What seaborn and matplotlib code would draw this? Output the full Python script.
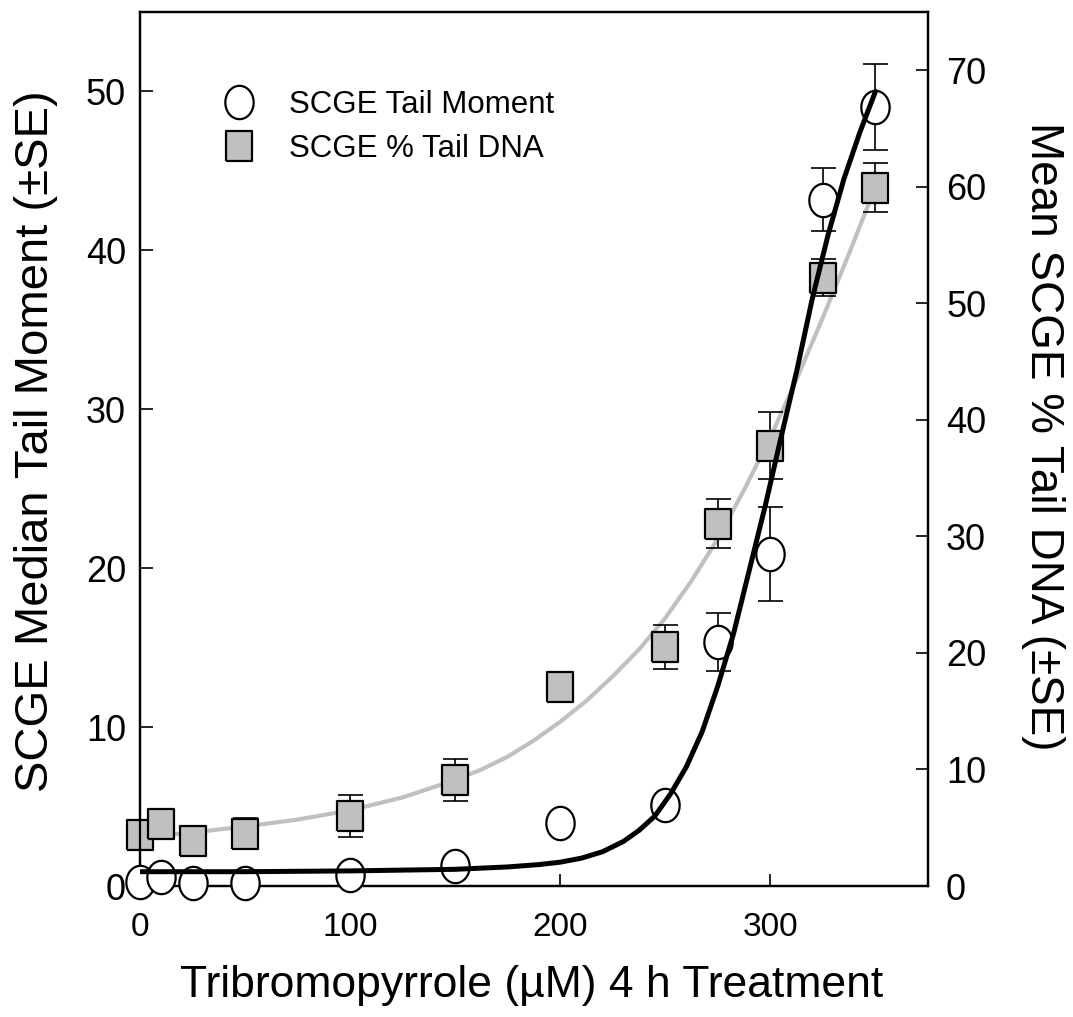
import numpy as np
import pandas as pd
import matplotlib
matplotlib.use("Agg")
import matplotlib.pyplot as plt
from matplotlib.lines import Line2D
import seaborn as sns

# ---------------- data ----------------
dose = [0, 10, 25, 50, 100, 150, 200, 250, 275, 300, 325, 350]
tail_moment = [0.25, 0.57, 0.2, 0.2, 0.7, 1.26, 3.96, 5.1, 15.35, 20.9, 43.2, 49.0]
tail_moment_se = [0.1, 0.1, 0.1, 0.1, 0.2, 0.3, 0.3, 0.4, 1.8, 2.95, 2.0, 2.7]
pct_tail_dna = [4.4, 5.3, 3.9, 4.5, 6.0, 9.1, 17.1, 20.5, 31.1, 37.8, 52.2, 59.9]
pct_tail_dna_se = [0.5, 1.0, 0.5, 1.3, 1.8, 1.8, 0.5, 1.9, 2.1, 2.9, 1.6, 2.1]

# fitted curves
fit_tm_x = [0, 50, 100, 150, 175, 190, 200, 210, 220, 230, 237.5, 245, 252.5,
            260, 267.5, 275, 282.5, 290, 297.5, 305, 312.5, 320, 327.5, 335,
            342.5, 350]
fit_tm_y = [0.9, 0.9, 0.95, 1.05, 1.2, 1.35, 1.5, 1.75, 2.15, 2.8, 3.5, 4.4, 5.8,
            7.5, 9.7, 12.6, 15.9, 19.9, 23.9, 28.2, 32.4, 37.0, 41.0, 44.5,
            47.4, 50.0]
fit_dna_x = [0, 25, 50, 75, 100, 125, 150, 162.5, 175, 187.5, 200, 212.5, 225,
             237.5, 250, 262.5, 275, 287.5, 300, 312.5, 325, 337.5, 350]
fit_dna_y = [4.2, 4.6, 5.1, 5.7, 6.5, 7.6, 9.1, 10.0, 11.1, 12.5, 14.1, 15.9,
             18.0, 20.3, 23.0, 26.2, 29.8, 34.0, 38.5, 43.5, 48.8, 54.3, 60.0]

x_ticks = [0, 100, 200, 300]
left_ticks = [0, 10, 20, 30, 40, 50]
right_ticks = [0, 10, 20, 30, 40, 50, 60, 70]

legend_labels = ["SCGE Tail Moment", "SCGE % Tail DNA"]
xlabel = "Tribromopyrrole (\u00b5M) 4 h Treatment"
left_label = "SCGE Median Tail Moment (\u00b1SE)"
right_label = "Mean SCGE % Tail DNA (\u00b1SE)"

# ---------------- style ----------------
sns.set_style("ticks")
plt.rcParams["font.family"] = ["Liberation Sans", "DejaVu Sans"]
plt.rcParams["text.color"] = "black"
plt.rcParams["axes.labelcolor"] = "black"
plt.rcParams["xtick.color"] = "black"
plt.rcParams["ytick.color"] = "black"

GRAY = "#c0c0c0"

# slightly tall marker shapes (reference is vertically stretched)
t = np.linspace(0, 2 * np.pi, 60)
ellipse = list(zip(0.85 * np.cos(t), np.sin(t)))
rect = [(-0.86, -1), (0.86, -1), (0.86, 1), (-0.86, 1), (-0.86, -1)]

fig = plt.figure(figsize=(10.73, 10.17), dpi=100)
ax = fig.add_axes([140 / 1073, 1 - 886 / 1017, 788 / 1073, 874 / 1017])
ax2 = ax.twinx()

df = pd.DataFrame({"dose": dose, "tm": tail_moment, "tm_se": tail_moment_se,
                   "dna": pct_tail_dna, "dna_se": pct_tail_dna_se})
fit_tm = pd.DataFrame({"x": fit_tm_x, "y": fit_tm_y})
fit_dna = pd.DataFrame({"x": fit_dna_x, "y": fit_dna_y})

# ---- % Tail DNA on the lower axes (right scale) ----
sns.lineplot(data=fit_dna, x="x", y="y", ax=ax, color=GRAY, linewidth=3.0,
             zorder=2)
ax.errorbar(df["dose"], df["dna"], yerr=df["dna_se"], fmt="none",
            ecolor="black", elinewidth=1.2, capsize=9, capthick=1.2,
            zorder=3, clip_on=False)
sns.scatterplot(data=df, x="dose", y="dna", ax=ax, marker=rect, s=21 ** 2,
                color=GRAY, edgecolor="black", linewidth=1.6, zorder=4,
                clip_on=False)

# ---- Tail moment on the upper axes (left scale) ----
ax2.errorbar(df["dose"], df["tm"], yerr=df["tm_se"], fmt="none",
             ecolor="black", elinewidth=1.2, capsize=9, capthick=1.2,
             zorder=3, clip_on=False)
sns.scatterplot(data=df, x="dose", y="tm", ax=ax2, marker=ellipse, s=24 ** 2,
                color="white", edgecolor="black", linewidth=1.6, zorder=4,
                clip_on=False)
sns.lineplot(data=fit_tm, x="x", y="y", ax=ax2, color="black", linewidth=3.6,
             zorder=5)

# ---- axes limits / ticks ----
ax.set_xlim(0, 375)
ax.set_ylim(0, 75)
ax2.set_ylim(0, 55)

ax.set_xticks(x_ticks)
ax.set_yticks(right_ticks)
ax2.set_yticks(left_ticks)

ax.yaxis.tick_right()
ax.yaxis.set_label_position("right")
ax2.yaxis.tick_left()
ax2.yaxis.set_label_position("left")

ax.tick_params(axis="x", direction="in", length=9, width=1.2, labelsize=24,
               pad=19, top=False, colors="black")
ax.tick_params(axis="y", direction="in", length=9, width=1.2, labelsize=26,
               pad=13, left=False, right=True, labelleft=False, labelright=True,
               colors="black")
ax2.tick_params(axis="y", direction="in", length=9, width=1.2, labelsize=26,
                pad=10, left=True, right=False, labelleft=True, labelright=False,
                colors="black")

for a in (ax, ax2):
    for sp in a.spines.values():
        sp.set_visible(True)
        sp.set_linewidth(1.6)
        sp.set_color("black")

ax.set_xlabel(xlabel, fontsize=32, color="black")
ax.xaxis.set_label_coords(0.497, -0.090)
ax.set_ylabel(right_label, fontsize=33, rotation=270, va="bottom", color="black")
ax.yaxis.set_label_coords(1.118, 0.515)
ax2.set_ylabel(left_label, fontsize=34, color="black")
ax2.yaxis.set_label_coords(-0.104, 0.509)

# ---- legend ----
handles = [
    Line2D([], [], linestyle="none", marker=ellipse, markersize=24,
           markerfacecolor="white", markeredgecolor="black", markeredgewidth=1.6),
    Line2D([], [], linestyle="none", marker=rect, markersize=21,
           markerfacecolor=GRAY, markeredgecolor="black", markeredgewidth=1.6),
]
leg = ax2.legend(handles, legend_labels, loc="upper left",
                 bbox_to_anchor=(0.086, 0.925), frameon=False, fontsize=22.5,
                 handlelength=1.2, handletextpad=1.0, labelspacing=0.45,
                 borderaxespad=0)
for txt in leg.get_texts():
    txt.set_color("black")

fig.savefig("out.png", dpi=100)
